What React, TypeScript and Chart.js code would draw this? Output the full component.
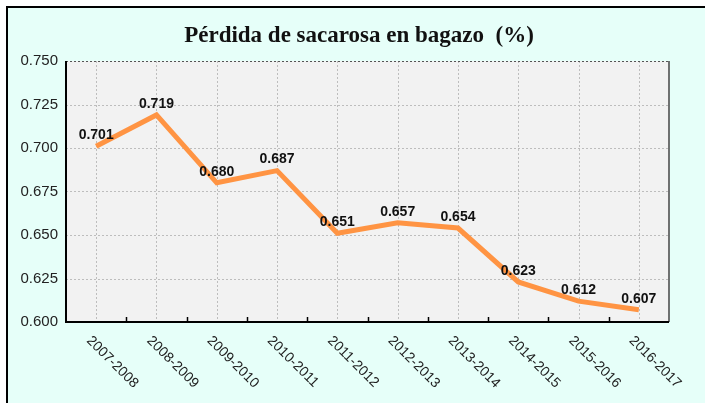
import React, { useEffect, useRef } from "react";
import { Chart, registerables } from "chart.js";

Chart.register(...registerables);

const categories = [
  "2007-2008", "2008-2009", "2009-2010", "2010-2011", "2011-2012",
  "2012-2013", "2013-2014", "2014-2015", "2015-2016", "2016-2017",
];
const values = [0.701, 0.719, 0.68, 0.687, 0.651, 0.657, 0.654, 0.623, 0.612, 0.607];
const yMin = 0.6;
const yMax = 0.75;
const yStep = 0.025;
const titleText = "Pérdida de sacarosa en bagazo  (%)";

const SANS = "'Liberation Sans', Arial, sans-serif";

const decorPlugin = {
  id: "decor",
  beforeDraw(chart: any) {
    const { ctx, width, height, chartArea } = chart;
    ctx.save();
    ctx.fillStyle = "#ffffff";
    ctx.fillRect(0, 0, width, height);
    ctx.fillStyle = "#E6FFF9";
    ctx.fillRect(7, 7, width - 7, height - 7);
    ctx.strokeStyle = "#000000";
    ctx.lineWidth = 2;
    ctx.beginPath();
    ctx.moveTo(7, height);
    ctx.lineTo(7, 7);
    ctx.lineTo(width, 7);
    ctx.stroke();
    // title
    ctx.fillStyle = "#111111";
    ctx.font = "bold 23px 'Liberation Serif', 'DejaVu Serif', serif";
    ctx.textAlign = "center";
    ctx.textBaseline = "alphabetic";
    ctx.fillText(titleText, 359, 42);
    // plot background
    ctx.fillStyle = "#F2F2F2";
    ctx.fillRect(chartArea.left, chartArea.top, chartArea.right - chartArea.left, chartArea.bottom - chartArea.top);
    ctx.restore();
  },
  beforeDatasetsDraw(chart: any) {
    const { ctx, chartArea } = chart;
    const xs = chart.scales.x;
    const ys = chart.scales.y;
    ctx.save();
    ctx.strokeStyle = "#BDBDBD";
    ctx.lineWidth = 1;
    ctx.setLineDash([2, 2]);
    ys.ticks.forEach((t: any) => {
      const y = Math.round(ys.getPixelForValue(t.value)) + 0.5;
      ctx.beginPath();
      ctx.moveTo(chartArea.left, y);
      ctx.lineTo(chartArea.right, y);
      ctx.stroke();
    });
    categories.forEach((_c, i) => {
      const x = Math.round(xs.getPixelForValue(i)) + 0.5;
      ctx.beginPath();
      ctx.moveTo(x, chartArea.top);
      ctx.lineTo(x, chartArea.bottom);
      ctx.stroke();
    });
    // top border dotted dark
    ctx.strokeStyle = "#555555";
    ctx.beginPath();
    ctx.moveTo(chartArea.left, chartArea.top + 0.5);
    ctx.lineTo(chartArea.right, chartArea.top + 0.5);
    ctx.stroke();
    ctx.setLineDash([]);
    // right border
    ctx.strokeStyle = "#444444";
    ctx.lineWidth = 1.5;
    ctx.beginPath();
    ctx.moveTo(chartArea.right, chartArea.top);
    ctx.lineTo(chartArea.right, chartArea.bottom);
    ctx.stroke();
    // left & bottom
    ctx.strokeStyle = "#000000";
    ctx.lineWidth = 2;
    ctx.beginPath();
    ctx.moveTo(chartArea.left, chartArea.top);
    ctx.lineTo(chartArea.left, chartArea.bottom);
    ctx.lineTo(chartArea.right, chartArea.bottom);
    ctx.stroke();
    // boundary ticks
    ctx.lineWidth = 1.5;
    const half = (xs.getPixelForValue(1) - xs.getPixelForValue(0)) / 2;
    for (let i = 0; i < categories.length - 1; i++) {
      const x = Math.round(xs.getPixelForValue(i) + half) + 0.5;
      ctx.beginPath();
      ctx.moveTo(x, chartArea.bottom);
      ctx.lineTo(x, chartArea.bottom - 5);
      ctx.stroke();
    }
    // x labels
    ctx.fillStyle = "#222222";
    ctx.font = `14px ${SANS}`;
    ctx.textAlign = "left";
    ctx.textBaseline = "middle";
    categories.forEach((c, i) => {
      const x = xs.getPixelForValue(i);
      ctx.save();
      ctx.translate(x - 7.5, chartArea.bottom + 16.5);
      ctx.rotate(Math.PI / 4);
      ctx.fillText(c, 0, 0);
      ctx.restore();
    });
    ctx.restore();
  },
  afterDatasetsDraw(chart: any) {
    const { ctx } = chart;
    const meta = chart.getDatasetMeta(0);
    ctx.save();
    ctx.fillStyle = "#111111";
    ctx.font = `bold 14px ${SANS}`;
    ctx.textAlign = "center";
    ctx.textBaseline = "middle";
    meta.data.forEach((p: any, i: number) => {
      ctx.fillText(values[i].toFixed(3), p.x, p.y - 11);
    });
    ctx.restore();
  },
};

export default function App() {
  const ref = useRef<HTMLCanvasElement | null>(null);
  useEffect(() => {
    if (!ref.current) return;
    const chart = new Chart(ref.current, {
      type: "line",
      data: {
        labels: categories,
        datasets: [
          {
            data: values,
            borderColor: "#FF9443",
            borderWidth: 5,
            pointRadius: 0,
            tension: 0,
            borderJoinStyle: "miter",
            fill: false,
          },
        ],
      },
      options: {
        animation: false,
        responsive: false,
        devicePixelRatio: 1,
        layout: { padding: { left: 0, right: 36, top: 61, bottom: 0 } },
        plugins: { legend: { display: false }, title: { display: false }, tooltip: { enabled: false } },
        scales: {
          x: {
            type: "category",
            offset: true,
            grid: { display: false, drawTicks: false },
            border: { display: false },
            ticks: { display: false },
            afterFit: (s: any) => { s.height = 81; },
          },
          y: {
            min: yMin,
            max: yMax,
            grid: { display: false, drawTicks: false },
            border: { display: false },
            ticks: {
              stepSize: yStep,
              padding: 8,
              color: "#222222",
              font: { size: 15, family: SANS },
              callback: (v: any) => Number(v).toFixed(3),
            },
            afterFit: (s: any) => { s.width = 66; },
          },
        },
      },
      plugins: [decorPlugin],
    } as any);
    return () => chart.destroy();
  }, []);
  return (
    <div style={{ position: "fixed", left: 0, top: 0, width: 705, height: 403 }}>
      <canvas ref={ref} width={705} height={403} />
    </div>
  );
}
